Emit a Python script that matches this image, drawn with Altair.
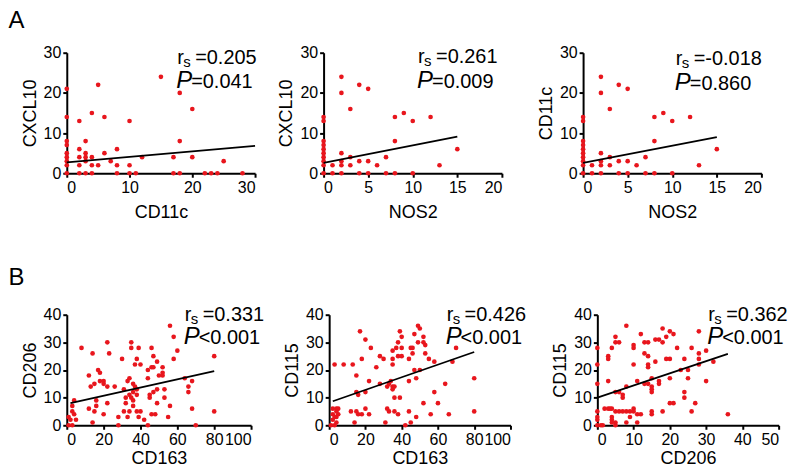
import altair as alt
import pandas as pd

FONT = "Liberation Sans"
RED = "#e8161d"

# ---------------- data ----------------
# Panel A1: CD11c (x) vs CXCL10 (y)
a1_x = [0, 0, 0, 0, 0, 0, 0, 0, 0,
        2, 5, 4, 6, 10, 15, 18, 20, 18, 20, 17, 25, 12, 8, 6, 2, 3, 3, 3, 3, 2, 4, 2, 4, 5, 7, 8, 10,
        2, 3, 4, 8, 10, 11, 17, 18, 22, 23, 24, 28]
a1_y = [21, 14, 8, 7, 5, 4, 3, 2, 0,
        13, 22, 15, 14, 13, 24, 20, 16, 8, 4, 4, 3, 4, 6, 5, 6, 8, 5, 4, 3, 4, 4, 2, 2, 2, 3, 2, 2,
        0, 0, 0, 0, 0, 0, 0, 0, 0, 0, 0, 0]
a1_fit_x = [0, 30]
a1_fit_y = [2.7, 6.8]

# Panel A2 / A3: NOS2 (x) vs CXCL10 / CD11c (y)
a2_x = [0, 0, 0, 0, 0, 0, 0, 0, 0, 0,
        2, 2, 4, 5, 3, 2, 2, 2, 3, 3, 1, 4, 5, 6, 7, 8, 8, 9, 10, 12, 13, 15,
        1, 2, 4, 5, 7, 8, 10]
a2_y = [14, 13, 8, 7, 6, 5, 4, 3, 2, 0,
        24, 20, 22, 21, 16, 5, 3, 2, 4, 2, 2, 3, 3, 2, 4, 14, 8, 15, 13, 14, 2, 6,
        0, 0, 0, 0, 0, 0, 0]
a2_fit_x = [0, 15]
a2_fit_y = [2.6, 9.1]
a3_x = list(a2_x)
a3_y = list(a2_y)
a3_fit_x = [0, 15]
a3_fit_y = [2.6, 9.0]

# Panel B1: CD163 (x) vs CD206 (y)
b1_x = [8, 14, 22, 23, 12, 13, 15, 17, 18, 18, 20, 20, 22, 26, 30, 35, 35, 39, 38, 37, 40, 46, 47, 49,
        46, 47, 44, 52, 50, 52, 52, 56, 58, 60, 58, 80, 64, 66, 66, 68, 68, 80, 70, 56, 55, 53, 53, 49,
        49, 47, 45, 45, 44, 46, 48, 44, 42, 40, 38, 39, 36, 36, 38, 37, 36, 34, 33, 31, 34, 35, 32, 32,
        34, 31, 33, 28, 28, 36, 38, 22, 20, 16, 16, 15, 12, 14, 4, 3, 3, 4, 5, 1, 2, 1, 3]
b1_y = [28, 26, 30, 26, 18, 14, 15, 20, 19, 16, 16, 15, 14, 14, 24, 30, 28, 28, 24, 22, 22, 28, 25, 23,
        21, 21, 20, 21, 18, 19, 18, 36, 32, 27, 24, 25, 17, 14, 12, 16, 6, 5, 0, 7, 3, 13, 10, 8,
        13, 12, 11, 10, 17, 4, 4, 0, 2, 5, 5, 3, 7, 9, 11, 14, 15, 17, 16, 13, 11, 10, 10, 8,
        5, 5, 3, 3, 0, 12, 13, 8, 4, 9, 7, 5, 6, 1, 9, 7, 5, 4, 2, 3, 2, 0, 0]
b1_fit_x = [2, 80]
b1_fit_y = [8.0, 19.6]

# Panel B2: CD163 (x) vs CD115 (y)
b2_x = [17, 20, 23, 18, 13, 8, 3, 15, 22, 26, 28, 30, 28, 15, 16, 20, 12, 15, 16, 18, 20, 22, 14, 31,
        32, 33, 36, 38, 36, 39, 33, 34, 35, 35, 36, 32, 35, 35, 35, 37, 38, 39, 40, 40, 38, 40, 42, 44,
        44, 44, 45, 46, 46, 47, 47, 45, 48, 48, 49, 50, 49, 50, 52, 52, 53, 53, 52, 55, 56, 58, 58, 60,
        64, 66, 68, 70, 80, 80, 2, 4, 5, 2, 4, 4, 3, 2, 4, 3, 1, 5]
b2_y = [34, 31, 28, 24, 22, 22, 22, 18, 16, 21, 25, 24, 15, 12, 11, 12, 5, 5, 4, 4, 6, 4, 1, 1,
        6, 5, 5, 4, 10, 10, 15, 16, 14, 13, 14, 14, 22, 24, 27, 28, 30, 34, 32, 28, 25, 25, 0, 5,
        16, 24, 28, 28, 26, 33, 20, 1, 3, 17, 36, 35, 30, 20, 32, 30, 29, 26, 8, 24, 4, 23, 12, 8,
        15, 4, 23, 28, 17, 5, 6, 6, 6, 4, 3, 5, 3, 2, 1, 0, 0, 4]
b2_fit_x = [2, 80]
b2_fit_y = [8.7, 26.5]

# Panel B3: CD206 (x) vs CD115 (y)
b3_x = [0, 0, 0, 0, 0, 0, 0, 1, 1.5, 2, 3, 3.5, 4, 3, 3, 3, 4, 5, 5, 6, 5, 6, 7, 7, 8, 8, 10, 10, 10,
        11, 12, 13, 14, 13, 14, 14, 14, 13, 14, 15, 15, 15, 16, 17, 16, 17, 17, 18, 18, 19, 20, 19,
        20, 20, 18, 21, 21, 22, 23, 24, 24, 24, 25, 25, 26, 26, 27, 28, 28, 28, 28, 30, 30, 32, 36,
        15, 15, 4, 4, 4, 5, 6, 5, 5, 7, 8, 9, 10, 10, 11, 12, 9, 8, 11, 20, 15]
b3_y = [28, 22, 15, 5, 3, 2, 0, 0, 0, 6, 6, 6, 6, 16, 25, 24, 28, 32, 30, 30, 12, 12, 10, 11, 36, 14,
        22, 29, 28, 16, 33, 30, 30, 26, 25, 22, 21, 15, 15, 17, 14, 12, 31, 31, 23, 16, 15, 30, 35,
        32, 34, 24, 24, 17, 5, 33, 8, 28, 20, 24, 12, 10, 20, 17, 28, 5, 8, 34, 26, 24, 22, 27, 16,
        23, 4, 5, 4, 3, 2, 1, 5, 5, 1, 0, 5, 5, 5, 6, 5, 4, 4, 3, 1, 1, 8, 13]
b3_fit_x = [0, 36]
b3_fit_y = [10.0, 25.8]

# annotation texts and anchor positions (data units)
rs_text = ["=0.205", "=0.261", "=-0.018", "=0.331", "=0.426", "=0.362"]
p_text = ["=0.041", "=0.009", "=0.860", "<0.001", "<0.001", "<0.001"]
ann_x = [17.6, 10.6, 10.4, 64.0, 64.8, 30.6]
ann_y1 = [27.3, 27.5, 27.0, 37.8, 37.8, 37.8]
ann_y2 = [21.1, 21.3, 20.8, 29.5, 29.5, 29.5]

x_titles = ["CD11c", "NOS2", "NOS2", "CD163", "CD163", "CD206"]
y_titles = ["CXCL10", "CXCL10", "CD11c", "CD206", "CD115", "CD115"]
x_domains = [[0, 30], [0, 20], [0, 20], [0, 100], [0, 100], [0, 50]]
x_ticks = [[0, 10, 20, 30], [0, 5, 10, 15, 20], [0, 5, 10, 15, 20],
           [0, 20, 40, 60, 80, 100], [0, 20, 40, 60, 80, 100], [0, 10, 20, 30, 40, 50]]
y_domains = [[0, 30]] * 3 + [[0, 40]] * 3
y_ticks = [[0, 10, 20, 30]] * 3 + [[0, 10, 20, 30, 40]] * 3
widths = [189, 179, 179, 185, 182, 182]
heights = [121, 121, 121, 111, 111, 111]
x_title_pad = [8, 8, 8, 2, 2, 2]

points = [(a1_x, a1_y), (a2_x, a2_y), (a3_x, a3_y), (b1_x, b1_y), (b2_x, b2_y), (b3_x, b3_y)]
fits = [(a1_fit_x, a1_fit_y), (a2_fit_x, a2_fit_y), (a3_fit_x, a3_fit_y),
        (b1_fit_x, b1_fit_y), (b2_fit_x, b2_fit_y), (b3_fit_x, b3_fit_y)]


def panel(i):
    xs = alt.Scale(domain=x_domains[i], nice=False, zero=True)
    ys = alt.Scale(domain=y_domains[i], nice=False, zero=True)
    xa = alt.Axis(values=x_ticks[i], title=x_titles[i], titlePadding=x_title_pad[i])
    ya = alt.Axis(values=y_ticks[i], title=y_titles[i])

    def X(f):
        return alt.X(f"{f}:Q", scale=xs, axis=xa, title=x_titles[i])

    def Y(f):
        return alt.Y(f"{f}:Q", scale=ys, axis=ya, title=y_titles[i])

    px, py = points[i]
    pts = alt.Chart(pd.DataFrame({"x": px, "y": py})).mark_circle(
        size=22, color=RED, opacity=1
    ).encode(x=X("x"), y=Y("y"))
    fx, fy = fits[i]
    line = alt.Chart(pd.DataFrame({"x": fx, "y": fy})).mark_line(
        color="black", strokeWidth=1.8
    ).encode(x=X("x"), y=Y("y"))
    ann = pd.DataFrame({"ax": [ann_x[i]], "ay1": [ann_y1[i]], "ay2": [ann_y2[i]],
                        "rs": [rs_text[i]], "pv": [p_text[i]], "r": ["r"], "s": ["s"],
                        "P": ["P"]})
    base = alt.Chart(ann)

    def txt(field, yfield, size, dx=0, dy=0, style="normal"):
        return base.mark_text(
            align="left", baseline="alphabetic", font=FONT, fontSize=size,
            fontStyle=style, color="black", dx=dx, dy=dy
        ).encode(x=X("ax"), y=Y(yfield), text=f"{field}:N")

    layers = [
        pts, line,
        txt("r", "ay1", 20, dx=0),
        txt("s", "ay1", 15, dx=6, dy=3),
        txt("rs", "ay1", 20, dx=18),
        txt("P", "ay2", 24, dx=-1, style="italic"),
        txt("pv", "ay2", 20, dx=14),
    ]
    return alt.layer(*layers).properties(width=widths[i], height=heights[i])


def row(idx, label, gap1, gap2, offset):
    inner = alt.hconcat(panel(idx[0]), panel(idx[1]), spacing=gap1)
    return alt.hconcat(inner, panel(idx[2]), spacing=gap2).properties(
        title=alt.TitleParams(label, anchor="start", fontSize=24, fontWeight="normal",
                              font=FONT, color="black", offset=offset, dx=-12.7)
    )


chart = alt.vconcat(
    row([0, 1, 2], "A", 18.8, 34.3, 12),
    row([3, 4, 5], "B", 18.4, 24.6, 15),
    spacing=45,
).properties(
    padding={"left": 0, "top": 0, "right": 0, "bottom": 0}
).configure_view(stroke=None).configure_axis(
    grid=False,
    domainColor="black", domainWidth=2,
    tickColor="black", tickWidth=2, tickSize=4,
    labelFont=FONT, labelFontSize=16, labelColor="black", labelPadding=2,
    titleFont=FONT, titleFontSize=18, titleFontWeight="normal", titleColor="black",
).configure_axisY(titlePadding=4)

chart.save("out.html", embed_options={"renderer": "svg", "actions": False})
